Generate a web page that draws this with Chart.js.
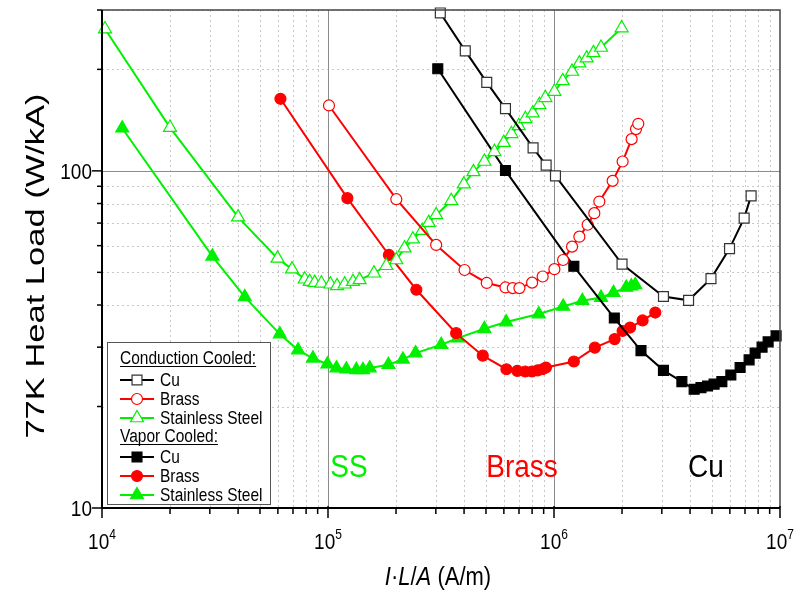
<!DOCTYPE html>
<html>
<head>
<meta charset="utf-8">
<script src="https://cdn.jsdelivr.net/npm/chart.js@4.4.1/dist/chart.umd.min.js"></script>
<style>
  body { margin: 0; background: #fff; }
  #wrap { width: 794px; height: 595px; }
</style>
</head>
<body>
<div id="wrap"><canvas id="chart1" width="794" height="595"></canvas></div>
<script>
// 77 K heat load per kA versus I*L/A for current leads
// conduction cooled
var cuCondX = [3.14e5, 4.05e5, 5.04e5, 6.10e5, 8.08e5, 9.23e5, 1.015e6, 2.0e6, 3.05e6, 3.94e6, 4.95e6, 5.98e6, 6.94e6, 7.45e6];
var cuCondY = [294, 227, 183, 153, 117, 104, 96.6, 52.9, 42.4, 41.3, 47.9, 58.8, 72.4, 84.3];

var brassCondX = [1.01e5, 2.006e5, 3.01e5, 4.02e5, 5.04e5, 6.10e5, 6.57e5, 7.03e5, 8.0e5, 8.91e5, 1.004e6, 1.097e6, 1.202e6, 1.295e6, 1.409e6, 1.508e6, 1.587e6, 1.817e6, 2.012e6, 2.205e6, 2.306e6, 2.36e6];
var brassCondY = [156.3, 82.4, 60.3, 50.8, 46.5, 45.1, 44.9, 44.9, 46.6, 48.6, 51.1, 54.4, 59.6, 63.8, 69.2, 74.9, 81.1, 93.4, 106.6, 124.2, 133, 137.9];

var ssCondX = [1.031e4, 2.0e4, 4.0e4, 5.98e4, 6.93e4, 7.89e4, 8.30e4, 8.73e4, 9.35e4, 1.025e5, 1.096e5, 1.185e5, 1.29e5, 1.38e5, 1.597e5, 1.812e5, 2.006e5, 2.18e5, 2.375e5, 2.61e5, 2.79e5, 3.01e5, 3.51e5, 3.99e5, 4.40e5, 4.92e5, 5.45e5, 5.99e5, 6.48e5, 6.98e5, 7.47e5, 8.05e5, 8.62e5, 9.16e5, 1.004e6, 1.093e6, 1.202e6, 1.295e6, 1.395e6, 1.494e6, 1.615e6, 1.992e6];
var ssCondY = [263.4, 134.4, 72.9, 55.0, 51.1, 47.7, 46.9, 46.6, 46.4, 46.1, 45.6, 46.1, 46.9, 47.5, 49.7, 52.3, 54.4, 59.0, 62.7, 66.5, 70.2, 74.0, 81.5, 91.3, 99.3, 106.6, 113.9, 121.3, 128.8, 136, 142.7, 148.3, 157, 164.7, 171.9, 184.9, 197.1, 208.7, 216, 223.9, 232.2, 265.2];

// vapor cooled
var cuVapX = [3.06e5, 6.10e5, 1.224e6, 1.849e6, 2.426e6, 3.05e6, 3.68e6, 4.17e6, 4.47e6, 4.78e6, 5.11e6, 5.53e6, 6.06e6, 6.66e6, 7.30e6, 7.76e6, 8.33e6, 8.86e6, 9.61e6];
var cuVapY = [200.8, 100.2, 52.1, 36.6, 29.3, 25.6, 23.7, 22.5, 22.75, 23.0, 23.3, 23.7, 24.8, 26.1, 27.5, 28.8, 30.0, 31.1, 32.4];

var brassVapX = [6.16e4, 1.218e5, 1.86e5, 2.46e5, 3.69e5, 4.84e5, 6.16e5, 6.88e5, 7.46e5, 7.99e5, 8.47e5, 8.89e5, 9.21e5, 1.224e6, 1.516e6, 1.855e6, 2.012e6, 2.17e6, 2.466e6, 2.806e6];
var brassVapY = [163.6, 83.0, 56.3, 44.4, 33.0, 28.3, 25.8, 25.5, 25.4, 25.4, 25.6, 25.8, 26.1, 27.2, 29.9, 31.7, 33.5, 34.3, 36.0, 38.0];

var ssVapX = [1.229e4, 3.08e4, 4.28e4, 6.12e4, 7.37e4, 8.58e4, 9.94e4, 1.09e5, 1.206e5, 1.335e5, 1.428e5, 1.529e5, 1.851e5, 2.145e5, 2.44e5, 3.17e5, 3.75e5, 4.92e5, 6.14e5, 8.56e5, 1.098e6, 1.335e6, 1.615e6, 1.834e6, 2.089e6, 2.198e6, 2.289e6];
var ssVapY = [133.8, 55.8, 42.3, 32.8, 29.4, 27.8, 26.7, 26.0, 25.8, 25.7, 25.7, 26.0, 26.6, 27.6, 28.8, 30.5, 31.9, 34.0, 35.6, 37.6, 39.6, 41.2, 42.1, 43.5, 45.1, 45.5, 45.9];

// axes
var xMin = 1e4, xMax = 1e7;
var yMin = 10, yMax = 300;
var xTickExp = [4, 5, 6, 7];
var yTickLabels = [10, 100];
var materialLabels = ['SS', 'Brass', 'Cu'];

var FONT = '"Liberation Sans", Arial, sans-serif';
var STRETCH = 1.15;
var GREEN = '#00f000';

function pts(xs, ys) {
	return xs.map(function (x, i) { return { x: x, y: ys[i] }; });
}

function series(label, xs, ys, color, style, open) {
	var r = style === 'circle' ? 5.5 : (style === 'rect' ? 7 : 7.5);
	return {
		label: label,
		data: pts(xs, ys),
		borderColor: color,
		borderWidth: 2,
		pointStyle: style,
		pointRadius: r,
		pointBackgroundColor: open ? '#ffffff' : color,
		pointBorderColor: open && color === '#000000' ? '#333333' : color,
		pointBorderWidth: 1.2,
		tension: 0,
		fill: false,
		clip: false
	};
}

var datasets = [
	series('Cu', cuCondX, cuCondY, '#000000', 'rect', true),
	series('Brass', brassCondX, brassCondY, '#ff0000', 'circle', true),
	series('Stainless Steel', ssCondX, ssCondY, GREEN, 'triangle', true),
	series('Cu', cuVapX, cuVapY, '#000000', 'rect', false),
	series('Brass', brassVapX, brassVapY, '#ff0000', 'circle', false),
	series('Stainless Steel', ssVapX, ssVapY, GREEN, 'triangle', false)
];

function text(ctx, str, x, y, size, color, align, style) {
	ctx.save();
	ctx.font = (style || '') + ' ' + size + 'px ' + FONT;
	ctx.fillStyle = color;
	ctx.textAlign = align || 'left';
	ctx.textBaseline = 'alphabetic';
	ctx.translate(x, y);
	ctx.scale(1, STRETCH);
	ctx.fillText(str, 0, 0);
	var w = ctx.measureText(str).width;
	ctx.restore();
	return w;
}

function minorValues(lo, hi) {
	var out = [];
	for (var d = lo; d < hi; d *= 10) {
		for (var m = 2; m <= 9; m++) {
			if (d * m < hi) out.push(d * m);
		}
	}
	return out;
}

var frame = {
	id: 'frame',
	beforeDatasetsDraw: function (chart) {
		var ctx = chart.ctx, a = chart.chartArea;
		var xs = chart.scales.x, ys = chart.scales.y;
		ctx.save();
		ctx.lineWidth = 1;
		// dotted minor grid
		ctx.strokeStyle = '#c8c8c8';
		ctx.setLineDash([2, 3]);
		minorValues(xMin, xMax).forEach(function (v) {
			var p = Math.round(xs.getPixelForValue(v)) + 0.5;
			ctx.beginPath(); ctx.moveTo(p, a.top); ctx.lineTo(p, a.bottom); ctx.stroke();
		});
		minorValues(yMin, yMax * 10).filter(function (v) { return v <= yMax; }).forEach(function (v) {
			var p = Math.round(ys.getPixelForValue(v)) + 0.5;
			ctx.beginPath(); ctx.moveTo(a.left, p); ctx.lineTo(a.right, p); ctx.stroke();
		});
		// solid decade grid
		ctx.setLineDash([]);
		ctx.strokeStyle = '#8c8c8c';
		[1e5, 1e6].forEach(function (v) {
			var p = Math.round(xs.getPixelForValue(v)) + 0.5;
			ctx.beginPath(); ctx.moveTo(p, a.top); ctx.lineTo(p, a.bottom); ctx.stroke();
		});
		var p100 = Math.round(ys.getPixelForValue(100)) + 0.5;
		ctx.beginPath(); ctx.moveTo(a.left, p100); ctx.lineTo(a.right, p100); ctx.stroke();
		ctx.restore();
	},
	afterDatasetsDraw: function (chart) {
		var ctx = chart.ctx, a = chart.chartArea;
		var xs = chart.scales.x, ys = chart.scales.y;
		ctx.save();
		// frame
		ctx.strokeStyle = '#444444';
		ctx.lineWidth = 1.5;
		ctx.beginPath();
		ctx.moveTo(a.left, a.top); ctx.lineTo(a.right, a.top); ctx.lineTo(a.right, a.bottom);
		ctx.stroke();
		ctx.strokeStyle = '#000000';
		ctx.lineWidth = 2;
		ctx.beginPath();
		ctx.moveTo(a.left, a.top); ctx.lineTo(a.left, a.bottom); ctx.lineTo(a.right, a.bottom);
		ctx.stroke();

		// ticks
		ctx.lineWidth = 1.5;
		xTickExp.forEach(function (e) {
			var p = xs.getPixelForValue(Math.pow(10, e));
			ctx.beginPath(); ctx.moveTo(p, a.bottom - 2); ctx.lineTo(p, a.bottom + 10); ctx.stroke();
		});
		minorValues(xMin, xMax).forEach(function (v) {
			var p = xs.getPixelForValue(v);
			ctx.beginPath(); ctx.moveTo(p, a.bottom); ctx.lineTo(p, a.bottom + 6); ctx.stroke();
		});
		[10, 100].forEach(function (v) {
			var p = ys.getPixelForValue(v);
			ctx.beginPath(); ctx.moveTo(a.left - 10, p); ctx.lineTo(a.left, p); ctx.stroke();
		});
		minorValues(yMin, yMax * 10).filter(function (v) { return v <= yMax; }).forEach(function (v) {
			var p = ys.getPixelForValue(v);
			ctx.beginPath(); ctx.moveTo(a.left - 5, p); ctx.lineTo(a.left, p); ctx.stroke();
		});

		// tick labels
		xTickExp.forEach(function (e) {
			var p = xs.getPixelForValue(Math.pow(10, e));
			ctx.font = '19px ' + FONT;
			var wb = ctx.measureText('10').width;
			ctx.font = '12px ' + FONT;
			var we = ctx.measureText(String(e)).width;
			var x0 = p - (wb + we) / 2;
			text(ctx, '10', x0, 549, 19, '#000', 'left');
			text(ctx, String(e), x0 + wb, 539, 12, '#000', 'left');
		});
		yTickLabels.forEach(function (v) {
			var p = ys.getPixelForValue(v);
			text(ctx, String(v), 92, p + 8, 19, '#000', 'right');
		});

		// axis titles
		ctx.save();
		ctx.translate(44, 266);
		ctx.rotate(-Math.PI / 2);
		ctx.scale(1.38, 1 / STRETCH);
		text(ctx, '77K Heat Load (W/kA)', 0, 0, 25, '#000', 'center');
		ctx.restore();

		var parts = [['I', 'italic'], ['\u00b7', ''], ['L', 'italic'], ['/', ''], ['A', 'italic'], [' (A/m)', '']];
		var total = 0;
		parts.forEach(function (pt) { ctx.font = pt[1] + ' 22px ' + FONT; total += ctx.measureText(pt[0]).width; });
		var tx = 438 - total / 2;
		parts.forEach(function (pt) { tx += text(ctx, pt[0], tx, 585, 22, '#000', 'left', pt[1]); });

		// material labels
		var labX = [349, 522, 706];
		var labC = [GREEN, '#ff0000', '#000000'];
		materialLabels.forEach(function (s, i) {
			text(ctx, s, labX[i], 477, 28, labC[i], 'center');
		});

		// legend
		ctx.fillStyle = '#ffffff';
		ctx.fillRect(107, 342, 163, 162);
		ctx.strokeStyle = '#555555';
		ctx.lineWidth = 1;
		ctx.strokeRect(107.5, 342.5, 163, 162);
		var rows = [
			{ head: 'Conduction Cooled:', y: 366 },
			{ ds: 0, y: 380 }, { ds: 1, y: 399 }, { ds: 2, y: 418 },
			{ head: 'Vapor Cooled:', y: 444 },
			{ ds: 3, y: 457 }, { ds: 4, y: 476 }, { ds: 5, y: 495 }
		];
		rows.forEach(function (r) {
			if (r.head) {
				var w = text(ctx, r.head, 120, r.y - 2, 15.5, '#000', 'left');
				ctx.strokeStyle = '#000';
				ctx.lineWidth = 1;
				ctx.beginPath(); ctx.moveTo(120, r.y + 0.5); ctx.lineTo(120 + w, r.y + 0.5); ctx.stroke();
				return;
			}
			var d = chart.data.datasets[r.ds];
			ctx.strokeStyle = d.borderColor;
			ctx.lineWidth = 2;
			ctx.beginPath(); ctx.moveTo(120, r.y); ctx.lineTo(154, r.y); ctx.stroke();
			ctx.fillStyle = d.pointBackgroundColor;
			ctx.strokeStyle = d.pointBorderColor;
			ctx.lineWidth = 1.2;
			Chart.helpers.drawPoint(ctx, { pointStyle: d.pointStyle, radius: d.pointRadius, rotation: 0, borderWidth: 1.2 }, 137, r.y);
			text(ctx, d.label, 160, r.y + 5.5, 15.5, '#000', 'left');
		});
		ctx.restore();
	}
};

var ctx = document.getElementById('chart1').getContext('2d');
new Chart(ctx, {
	type: 'line',
	data: { datasets: datasets },
	options: {
		responsive: false,
		animation: false,
		layout: { padding: { left: 102, right: 14, top: 10, bottom: 87 } },
		scales: {
			x: { type: 'logarithmic', min: xMin, max: xMax, display: false },
			y: { type: 'logarithmic', min: yMin, max: yMax, display: false }
		},
		plugins: {
			legend: { display: false },
			tooltip: { enabled: false }
		}
	},
	plugins: [frame]
});
</script>
</body>
</html>
